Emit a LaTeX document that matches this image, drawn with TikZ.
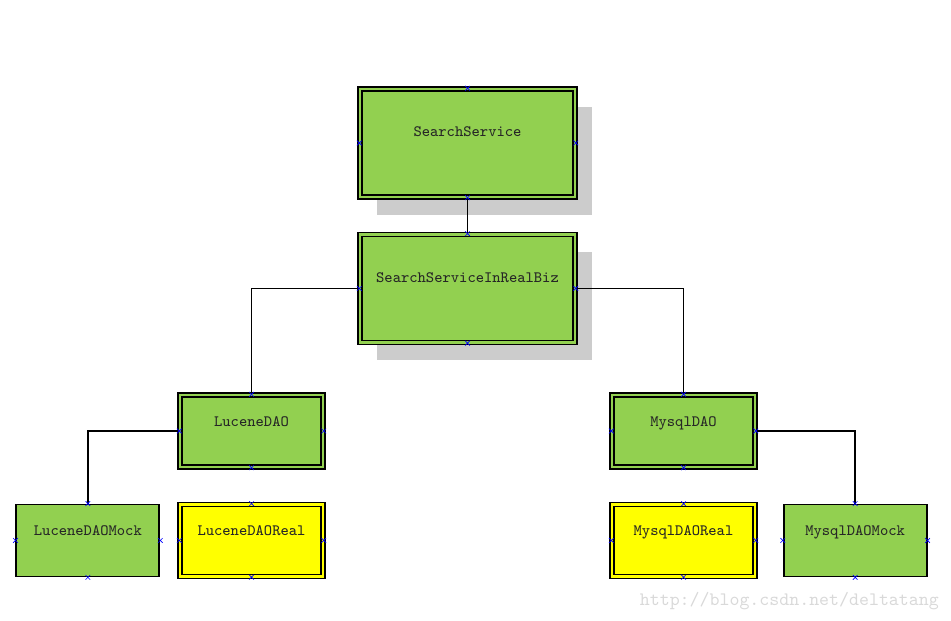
\documentclass[tikz,border=0pt]{standalone}
\usepackage{xcolor}
\usepackage{tikz}
\usetikzlibrary{positioning,shadows,shapes.misc}
\definecolor{bizgreen}{RGB}{146,208,80}
\definecolor{bizyellow}{RGB}{255,255,0}
\definecolor{bizshadow}{RGB}{204,204,204}

\begin{document}
\begin{tikzpicture}[
    cls/.style={draw=black, line width=1pt, fill=bizgreen,
                minimum width=2.86cm, minimum height=1.44cm,
                text height=0.2cm, text depth=0.4cm,
                font=\ttfamily\fontsize{9}{10}\selectfont, text=black!85},
    dbl/.style={cls, double=bizgreen, double distance=1.2pt, line width=0.85pt},
    big/.style={dbl, minimum width=4.3cm, minimum height=2.16cm,
                text depth=0.44cm,
                drop shadow={shadow xshift=0.34cm, shadow yshift=-0.36cm,
                             fill=bizshadow, opacity=1}},
    real/.style={dbl, fill=bizyellow, double=bizyellow},
    wire/.style={line width=1pt},
    joint/.style={cross out, draw=blue, minimum size=0.08cm,
                  inner sep=0pt, line width=0.4pt},
    node distance=0.72cm
]
\useasboundingbox (0,0) rectangle (19.02,-12.42);

\node[big] (ss) at (9.35,-2.86) {SearchService};
\node[big, below=of ss] (biz) {SearchServiceInRealBiz};
\node[dbl] (ldao) at (5.03,-8.62) {LuceneDAO};
\node[dbl] (mdao) at (13.67,-8.62) {MysqlDAO};
\node[real, below=of ldao] (lreal) {LuceneDAOReal};
\node[cls, left=0.38cm of lreal] (lmock) {LuceneDAOMock};
\node[real, below=of mdao] (mreal) {MysqlDAOReal};
\node[cls, right=0.54cm of mreal] (mmock) {MysqlDAOMock};

\draw[wire] (ss) -- (biz);
\draw[wire] (biz.west) -| (ldao.north);
\draw[wire] (biz.east) -| (mdao.north);
\draw[wire] (ldao.west) -| (lmock.north);
\draw[wire] (mdao.east) -| (mmock.north);

% connection points
\foreach \b in {ss,biz,ldao,mdao,lreal,lmock,mreal,mmock}
  \foreach \a in {north,south,east,west}
    \node[joint] at (\b.\a) {};

\node[anchor=east, font=\ttfamily\fontsize{10.8}{12}\selectfont,
      text=black!15] (url) at (18.9,-12.02) {http://blog.csdn.net/deltatang};
\end{tikzpicture}
\end{document}
